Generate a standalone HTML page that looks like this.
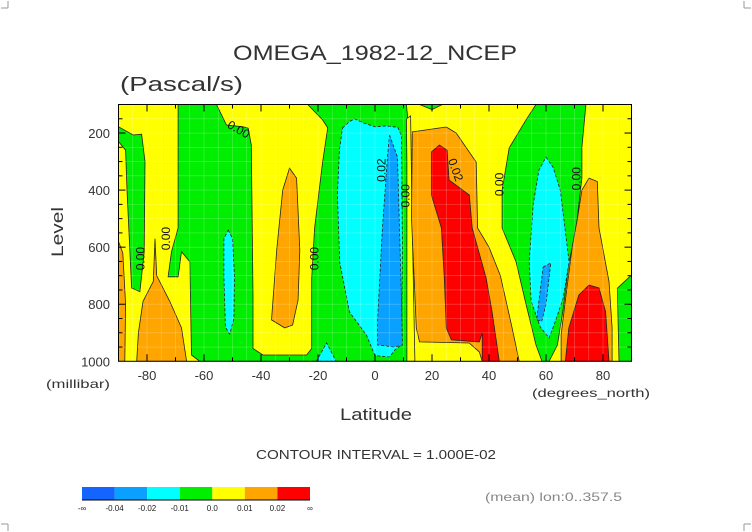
<!DOCTYPE html>
<html><head><meta charset="utf-8">
<style>
html,body{margin:0;padding:0;background:#fff;}
svg{display:block;font-family:"Liberation Sans",sans-serif;}
</style></head>
<body>
<svg id="chart" width="752" height="532" viewBox="0 0 752 532">
  <g stroke="#999" stroke-width="1" fill="none">
    <path d="M8 1 V8 M1 8 H8"/><path d="M744 1 V8 M744 8 H751"/>
    <path d="M8 524 V531 M1 524 H8"/><path d="M744 524 V531 M744 524 H751"/>
  </g>
  <text x="233" y="60" textLength="284" lengthAdjust="spacingAndGlyphs" font-size="21" fill="#333">OMEGA_1982-12_NCEP</text>
  <text x="120" y="91" textLength="123" lengthAdjust="spacingAndGlyphs" font-size="20" fill="#333">(Pascal/s)</text>
  <g id="plot"></g>
  <g id="axes"></g>
  <text x="63" y="232" font-size="17" fill="#333" text-anchor="middle" textLength="50" lengthAdjust="spacingAndGlyphs" transform="rotate(-90 63 232)">Level</text>
  <text x="46" y="388" font-size="12" textLength="64" lengthAdjust="spacingAndGlyphs" fill="#333">(millibar)</text>
  <text x="340" y="420" font-size="17" textLength="72" lengthAdjust="spacingAndGlyphs" fill="#333">Latitude</text>
  <text x="532" y="397" font-size="12" textLength="118" lengthAdjust="spacingAndGlyphs" fill="#333">(degrees_north)</text>
  <text x="256" y="459" font-size="13" textLength="240" lengthAdjust="spacingAndGlyphs" fill="#333">CONTOUR INTERVAL = 1.000E-02</text>
  <text x="485" y="501" font-size="12" textLength="137" lengthAdjust="spacingAndGlyphs" fill="#888">(mean) lon:0..357.5</text>
  <g id="cbar"></g>
</svg>
<script>
const xTicks = [-80,-60,-40,-20,0,20,40,60,80];
const yTicks = [200,400,600,800,1000];
const levelColors = ["#1464ff","#0aa0ff","#00ffff","#00ee00","#ffff00","#ffa500","#ff0000"];
const cbarLabels = ["-∞","-0.04","-0.02","-0.01","0.0","0.01","0.02","∞"];
// level index per region (0..6), painter's order
const regionLevels = [4,3,3,4,5,5,5,2,2,2,1,4,5,6,3,3,2,1,5,6,3];
const regionShapes = [
 [[-90,100],[90,100],[90,1000],[-90,1000]],
 [[-90,178],[-84.8,207],[-81.9,204],[-80.7,300],[-81,616],[-82.5,756],[-85.4,743],[-87,400],[-87.5,260],[-90,230]],
 [[-69.1,100],[-69.1,533],[-71.4,616],[-72.6,704],[-69.1,704],[-67.9,616],[-65,651],[-64.4,978],[-61.5,1000],[12.5,1000],[12.5,300],[11.5,150],[11,100]],
 [[-55.6,100],[-52.1,172],[-46.3,178],[-44.5,183],[-43.4,242],[-42.8,768],[-42.8,955],[-39.3,978],[-24,978],[-22.2,955],[-22.2,708],[-21.2,533],[-18.4,302],[-16.6,182],[-18.4,154],[-23.6,100]],
 [[-30,323],[-27.5,358],[-26.4,610],[-27,785],[-28.9,873],[-31.7,883],[-36.3,855],[-34.5,610],[-32.4,400]],
 [[-90,580],[-88.5,620],[-87.5,800],[-87.8,1000],[-90,1000]],
 [[-77.2,570],[-76.6,700],[-72,790],[-67.9,883],[-66.1,1000],[-83.6,1000],[-83,900],[-81.4,790],[-77.8,720]],
 [[-51.5,540],[-50,570],[-49.3,700],[-49.5,850],[-51,905],[-52.5,880],[-53,700],[-53,570]],
 [[-20.6,1000],[-17,936],[-13.6,1000]],
 [[-11.4,182],[-9,160],[-7.2,150],[-4,165],[0,178],[4,175],[8,180],[9.3,210],[9.6,600],[9.3,943],[7,960],[5.1,985],[0,980],[-3,908],[-9,827],[-12.4,652],[-13.2,417],[-12.5,260]],
 [[5.1,207],[7.9,284],[9.3,785],[9.6,943],[6.8,950],[0.9,943],[0.9,855],[2.6,533],[4.4,284]],
 [[11,150],[12.5,140],[13,500],[14,1000],[11.2,1000],[11.2,300]],
 [[13.1,196],[25,179],[28.5,200],[35.5,302],[36,533],[40,600],[44,700],[48.1,883],[50.6,1000],[37.6,1000],[36.6,967],[33,936],[15.6,932],[14.5,883],[12.8,500]],
 [[19.8,266],[22.6,242],[25.3,260],[26,365],[33.1,417],[34.1,533],[39,708],[41.1,827],[43.6,1000],[37.6,1000],[37.6,900],[36.6,932],[26.8,925],[25,883],[24.3,708],[23.3,533],[19.8,417]],
 [[15.6,100],[23.6,100],[20,118]],
 [[56.5,100],[53,154],[47.1,252],[44.6,400],[44.6,533],[49.5,652],[53,800],[56.5,943],[58.6,1000],[61.1,1000],[64,943],[66,820],[68.1,652],[70.5,540],[72.6,358],[72.6,250],[74,100]],
 [[60,284],[62.5,320],[65,400],[68.1,652],[66,780],[62.8,873],[61.1,918],[58,880],[54.8,790],[54.1,652],[55.5,450],[57.5,330]],
 [[59,670],[61.7,655],[60,800],[58.5,860],[56.7,855],[58,750]],
 [[72.6,400],[75.1,358],[78,370],[78.6,533],[82.1,720],[83.2,883],[83.2,1000],[65.3,1000],[65.3,908],[67,768],[69.3,592],[71,500]],
 [[66.8,1000],[68,883],[71.5,768],[75.1,733],[78.6,743],[80.9,826],[82.1,1000]],
 [[85,744],[90,698],[90,1000],[85.6,1000]]
];
const contourLabels = ["0.00","0.00","0.00","0.00","0.02","0.00","0.02","0.00","0.00"];
const contourLabelLat = [-48,-82,-73,-21,2.5,11,28,44,71];
const contourLabelLev = [190,640,570,640,330,420,330,380,360];
const contourLabelRot = [30,-90,-90,-90,-90,-90,70,-90,-90];

const X0=118.5,X1=631.5,Y0=104.5,Y1=361.3;
const xs = lat => X0 + (lat+90)*(X1-X0)/180;
const ys = lev => Y0 + (lev-100)*(Y1-Y0)/900;
const NS="http://www.w3.org/2000/svg";
const plot=document.getElementById('plot');
const axes=document.getElementById('axes');
function mk(tag,attrs,parent){const e=document.createElementNS(NS,tag);for(const k in attrs)e.setAttribute(k,attrs[k]);parent.appendChild(e);return e;}

const clip=mk('clipPath',{id:'pc'},plot);
mk('rect',{x:X0,y:Y0,width:X1-X0,height:Y1-Y0},clip);
const cg=mk('g',{'clip-path':'url(#pc)'},plot);
regionShapes.forEach((pts,i)=>{
  const lv=regionLevels[i];
  const p=mk('polygon',{points:pts.map(q=>xs(q[0]).toFixed(1)+','+ys(q[1]).toFixed(1)).join(' '),fill:levelColors[lv],stroke:i===0?'none':'#222','stroke-width':0.8,'stroke-dasharray':lv<3?'3,2':'none'},cg);
  
  
});
for(let lat=-85;lat<90;lat+=5){
  const l=mk('line',{x1:xs(lat),x2:xs(lat),y1:Y0,y2:Y1,stroke:'#fff','stroke-opacity':0.3,'stroke-width':0.6},cg);
  
  
}
for(let lev=150;lev<1000;lev+=50){
  const l=mk('line',{x1:X0,x2:X1,y1:ys(lev),y2:ys(lev),stroke:'#fff','stroke-opacity':0.3,'stroke-width':0.6},cg);
  
  
}
contourLabels.forEach((t,i)=>{
  const x=xs(contourLabelLat[i]),y=ys(contourLabelLev[i]);
  const e=mk('text',{x:x,y:y,'font-size':12,'text-anchor':'middle','dominant-baseline':'middle',fill:'#111',transform:`rotate(${contourLabelRot[i]} ${x} ${y})`},cg);
  e.textContent=t;
  
  
});
const fr=mk('rect',{x:X0,y:Y0,width:X1-X0,height:Y1-Y0,fill:'none',stroke:'#000','stroke-width':1},axes);


for(let lat=-80;lat<=80;lat+=10){
  const len=(lat%20===0)?7:4;
  mk('line',{x1:xs(lat),x2:xs(lat),y1:Y1,y2:Y1-len,stroke:'#000'},axes);
  mk('line',{x1:xs(lat),x2:xs(lat),y1:Y0,y2:Y0+len,stroke:'#000'},axes);
}
for(let lev=150;lev<=950;lev+=50){
  const len=(lev%200===0)?7:4;
  mk('line',{x1:X0,x2:X0+len,y1:ys(lev),y2:ys(lev),stroke:'#000'},axes);
  mk('line',{x1:X1,x2:X1-len,y1:ys(lev),y2:ys(lev),stroke:'#000'},axes);
}
xTicks.forEach(v=>{
  const e=mk('text',{x:xs(v),y:380,'font-size':13,'text-anchor':'middle',fill:'#333'},axes);
  e.textContent=String(v);
  
  
});
yTicks.forEach(v=>{
  const e=mk('text',{x:110,y:ys(v)+5,'font-size':13,'text-anchor':'end',fill:'#333'},axes);
  e.textContent=String(v);
  
  
});
const cb=document.getElementById('cbar');
const cbX0=82,cbX1=310,cbY=487,cbH=13,sw=(cbX1-cbX0)/levelColors.length;
levelColors.forEach((c,i)=>{
  const r=mk('rect',{x:cbX0+i*sw,y:cbY,width:sw,height:cbH,fill:c},cb);
  
  
});
mk('line',{x1:cbX0,x2:cbX1,y1:cbY+cbH,y2:cbY+cbH,stroke:'#000'},cb);
cbarLabels.forEach((t,i)=>{
  const e=mk('text',{x:cbX0+i*sw,y:511,'font-size':8,'text-anchor':'middle',fill:'#222'},cb);
  e.textContent=t;
  
  
});
</script>
</body></html>
